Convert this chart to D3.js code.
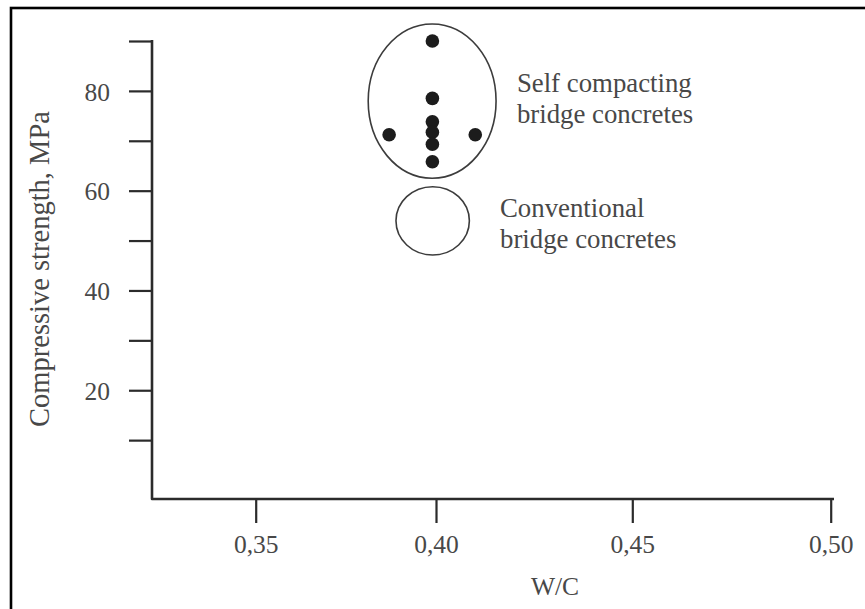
<!DOCTYPE html>
<html>
<head>
<meta charset="utf-8">
<script src="https://cdn.jsdelivr.net/npm/d3@7"></script>
<style>
  html, body { margin: 0; padding: 0; background: #fff; }
  svg { display: block; font-family: "Liberation Serif", "Times New Roman", serif; }
</style>
</head>
<body>
<svg id="chart" width="865" height="609"></svg>
<script>
// ---- data ----
const xTicks = [0.35, 0.40, 0.45, 0.50];
const xTickLabels = ["0,35", "0,40", "0,45", "0,50"];
const yTicks = [10, 20, 30, 40, 50, 60, 70, 80, 90];
const yTickLabels = ["", "20", "", "40", "", "60", "", "80", ""];

// self compacting bridge concretes: W/C and compressive strength (MPa)
const sccWC       = [0.399, 0.399, 0.399, 0.399, 0.399, 0.399, 0.387, 0.410];
const sccStrength = [90.0,  78.5,  73.8,  71.7,  69.3,  65.8,  71.2,  71.2];

// envelope regions: [xMin, xMax, yMin, yMax]
const regionNames = ["Self compacting", "Conventional"];
const regionBounds = [
  [0.3812, 0.4153, 62.5, 93.4],
  [0.3889, 0.4085, 47.1, 60.8]
];
const labelLines = [
  ["Self compacting", "bridge concretes"],
  ["Conventional", "bridge concretes"]
];
const labelAnchor = [
  [0.4206, 79.8],
  [0.4163, 54.8]
];

const xTitle = "W/C";
const yTitle = "Compressive strength, MPa";

// ---- layout ----
const svg = d3.select("#chart");
const ink = "#2b2b2b";
const textInk = "#484848";

// frame (only left and top edges visible in the reference)
svg.append("rect")
  .attr("x", 11).attr("y", 8)
  .attr("width", 1000).attr("height", 1000)
  .attr("fill", "none").attr("stroke", "#000").attr("stroke-width", 2.6);

// hand-drawn axis spacing: piecewise linear x scale
const x = d3.scaleLinear()
  .domain(xTicks)
  .range([255.7, 436, 632.3, 830.7]);
const y = d3.scaleLinear()
  .domain([-1.8, 90.2])
  .range([499, 40]);

const axisLeftX = 152;
const axisRightX = 834;
const axisY = y(-1.8);

const g = svg.append("g");

// axis lines
g.append("path")
  .attr("d", `M${axisLeftX},${y(90.2)} L${axisLeftX},${axisY} L${axisRightX},${axisY}`)
  .attr("fill", "none").attr("stroke", ink).attr("stroke-width", 2.6)
  .attr("stroke-linejoin", "round");

// y ticks
const yAxis = d3.axisLeft(y)
  .tickValues(yTicks)
  .tickSize(23)
  .tickPadding(19)
  .tickFormat((d, i) => yTickLabels[i]);
const ya = g.append("g").attr("transform", `translate(${axisLeftX},0)`).call(yAxis);
ya.select(".domain").remove();
ya.selectAll(".tick line").attr("stroke", ink).attr("stroke-width", 2.2);
ya.selectAll(".tick text")
  .attr("fill", textInk)
  .attr("font-size", 25.5)
  .attr("font-family", "Liberation Serif, serif")
  .attr("dy", "0.36em");

// x ticks
const xAxis = d3.axisBottom(x)
  .tickValues(xTicks)
  .tickSize(24)
  .tickPadding(12)
  .tickFormat((d, i) => xTickLabels[i]);
const xa = g.append("g").attr("transform", `translate(0,${axisY})`).call(xAxis);
xa.select(".domain").remove();
xa.selectAll(".tick line").attr("stroke", ink).attr("stroke-width", 2.2);
xa.selectAll(".tick text")
  .attr("fill", textInk)
  .attr("font-size", 25.5)
  .attr("font-family", "Liberation Serif, serif")
  .attr("dy", "0.71em");

// axis titles
svg.append("text")
  .attr("x", 555).attr("y", 595)
  .attr("text-anchor", "middle")
  .attr("font-size", 25.5)
  .attr("fill", textInk)
  .text(xTitle);

svg.append("text")
  .attr("transform", `translate(49,269) rotate(-90)`)
  .attr("text-anchor", "middle")
  .attr("font-size", 28.5)
  .attr("fill", textInk)
  .text(yTitle);

// regions
g.selectAll("ellipse.region")
  .data(regionBounds)
  .join("ellipse")
  .attr("class", "region")
  .attr("cx", d => (x(d[0]) + x(d[1])) / 2)
  .attr("cy", d => (y(d[2]) + y(d[3])) / 2)
  .attr("rx", d => Math.abs(x(d[1]) - x(d[0])) / 2)
  .attr("ry", d => Math.abs(y(d[2]) - y(d[3])) / 2)
  .attr("fill", "none")
  .attr("stroke", "#3c3c3c")
  .attr("stroke-width", 1.6);

// points
g.selectAll("circle.pt")
  .data(sccWC.map((w, i) => [w, sccStrength[i]]))
  .join("circle")
  .attr("class", "pt")
  .attr("cx", d => x(d[0]))
  .attr("cy", d => y(d[1]))
  .attr("r", 6.8)
  .attr("fill", "#1c1c1c");

// region labels
labelLines.forEach((lines, i) => {
  const t = svg.append("text")
    .attr("font-size", 26.8)
    .attr("fill", textInk);
  lines.forEach((ln, j) => {
    t.append("tspan")
      .attr("x", x(labelAnchor[i][0]))
      .attr("y", y(labelAnchor[i][1]) + j * 31)
      .text(ln);
  });
});
</script>
</body>
</html>
